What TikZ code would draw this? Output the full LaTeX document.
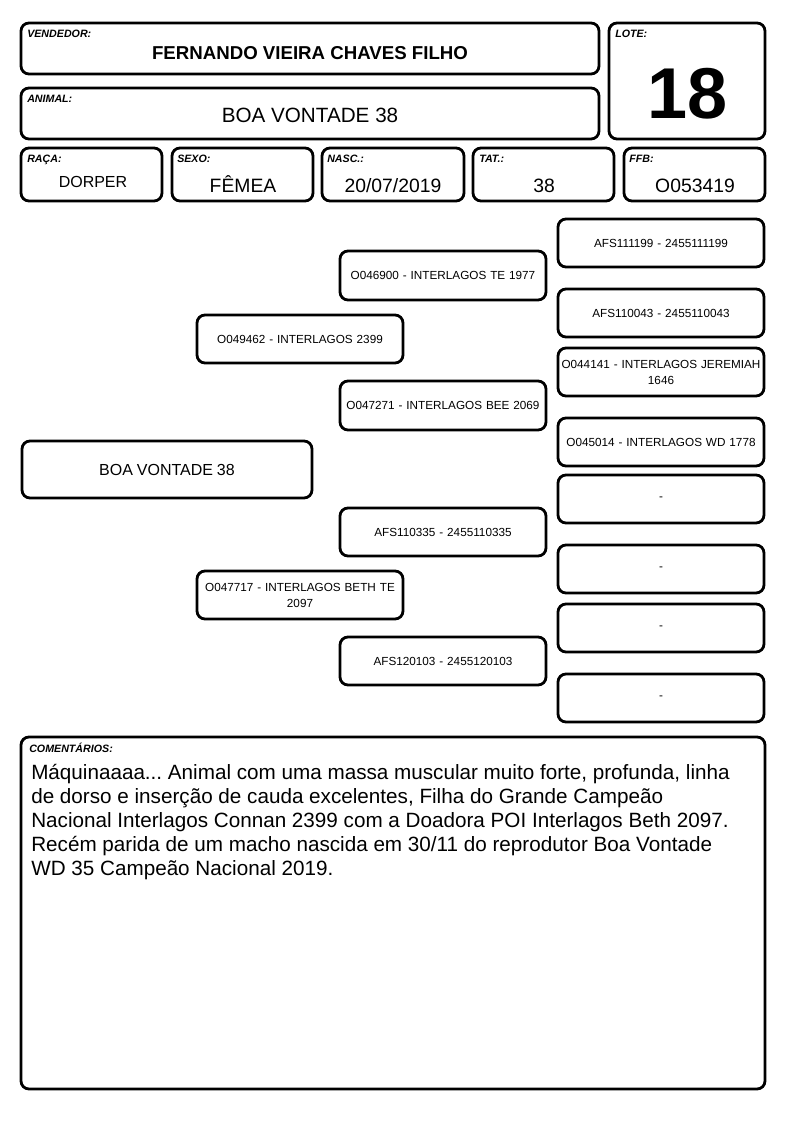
\documentclass[tikz,border=0pt]{standalone}
\usepackage{fontspec}
\setmainfont{Liberation Sans}
\frenchspacing
\hyphenpenalty=10000
\exhyphenpenalty=10000
\tikzset{
  box/.style={draw, line width=2.1pt, rounded corners=6pt, inner sep=0pt, outer sep=0pt},
  lab/.style={anchor=base west, inner sep=0pt, font=\fontsize{8}{9}\selectfont\bfseries\itshape},
  val/.style={anchor=base, inner sep=0pt},
  pedtext/.style={align=center, font=\fontsize{8.8}{12}\selectfont},
}
\newcommand\bx[5]{\node[box, minimum width={(#4-#2)*0.75pt}, minimum height={(#5-#3)*0.75pt}] (#1) at ({(#2+#4)/2},{(#3+#5)/2}) {};}
\newcommand\pbx[6]{\node[box, pedtext, text width={(#4-#2-2)*0.75pt}, minimum height={(#5-#3)*0.75pt}] (#1) at ({(#2+#4)/2},{(#3+#5)/2}) {#6};}
\begin{document}
\begin{tikzpicture}[x=0.75pt,y=-0.75pt]
\useasboundingbox[fill=white] (0,0) rectangle (794,1123);
% header boxes
\bx{vend}{21}{23}{599}{74}
\bx{anim}{21}{88}{599}{139}
\bx{lote}{609}{23}{765}{139}
\bx{raca}{21}{148}{162}{201}
\bx{sexo}{172}{148}{313}{201}
\bx{nasc}{322}{148}{464}{201}
\bx{tat}{473}{148}{614}{201}
\bx{ffb}{624}{148}{765}{201}
% labels
\node[lab] (lvend) at (27,38) {VENDEDOR:};
\node[lab] (lanim) at (27,103) {ANIMAL:};
\node[lab] (llote) at (615,38) {LOTE:};
\node[lab] (lraca) at (27,163) {RAÇA:};
\node[lab] (lsexo) at (177,163) {SEXO:};
\node[lab] (lnasc) at (327,163) {NASC.:};
\node[lab] (ltat) at (479,163) {TAT.:};
\node[lab] (lffb) at (629,163) {FFB:};
% values
\node[val, font=\fontsize{14}{16}\selectfont\bfseries] (tvend) at (310,60) {FERNANDO VIEIRA CHAVES FILHO};
\node[val, font=\fontsize{15.5}{17}\selectfont] (tanim) at (310,123) {BOA VONTADE 38};
\node[val, font=\fontsize{54}{60}\selectfont\bfseries] (tlote) at (688,119) {18};
\node[val, font=\fontsize{12}{14}\selectfont] (traca) at (93,188) {DORPER};
\node[val, font=\fontsize{14.5}{16}\selectfont] (tsexo) at (243,193) {FÊMEA};
\node[val, font=\fontsize{14.5}{16}\selectfont] (tnasc) at (393,193) {20/07/2019};
\node[val, font=\fontsize{14.5}{16}\selectfont] (ttat) at (544,193) {38};
\node[val, font=\fontsize{14.5}{16}\selectfont] (tffb) at (695,193) {O053419};
% pedigree
\pbx{p0}{21}{441}{313}{498}{\fontsize{12}{14}\selectfont BOA VONTADE 38}
\pbx{s}{196}{315}{404}{363}{O049462 - INTERLAGOS 2399}
\pbx{d}{196}{571}{404}{619}{O047717 - INTERLAGOS BETH TE\\2097}
\pbx{ss}{339}{251}{547}{300}{O046900 - INTERLAGOS TE 1977}
\pbx{sd}{339}{381}{547}{430}{O047271 - INTERLAGOS BEE 2069}
\pbx{ds}{339}{508}{547}{556}{AFS110335 - 2455110335}
\pbx{dd}{339}{637}{547}{685}{AFS120103 - 2455120103}
\pbx{sss}{557}{219}{765}{267}{AFS111199 - 2455111199}
\pbx{ssd}{557}{289}{765}{337}{AFS110043 - 2455110043}
\pbx{sds}{557}{348}{765}{396}{O044141 - INTERLAGOS JEREMIAH\\1646}
\pbx{sdd}{557}{418}{765}{466}{O045014 - INTERLAGOS WD 1778}
\pbx{dss}{557}{475}{765}{523}{-}
\pbx{dsd}{557}{545}{765}{593}{-}
\pbx{dds}{557}{604}{765}{652}{-}
\pbx{ddd}{557}{674}{765}{722}{-}
% comments
\bx{com}{21}{737}{765}{1089}
\node[lab] (lcom) at (29,752) {COMENTÁRIOS:};
\node[anchor=north west, inner sep=0pt, align=left, font=\fontsize{15.5}{18}\selectfont] (tcom) at (31,764) {Máquinaaaa... Animal com uma massa muscular muito forte, profunda, linha\\de dorso e inserção de cauda excelentes, Filha do Grande Campeão\\Nacional Interlagos Connan 2399 com a Doadora POI Interlagos Beth 2097.\\Recém parida de um macho nascida em 30/11 do reprodutor Boa Vontade\\WD 35 Campeão Nacional 2019.};
\end{tikzpicture}
\end{document}
